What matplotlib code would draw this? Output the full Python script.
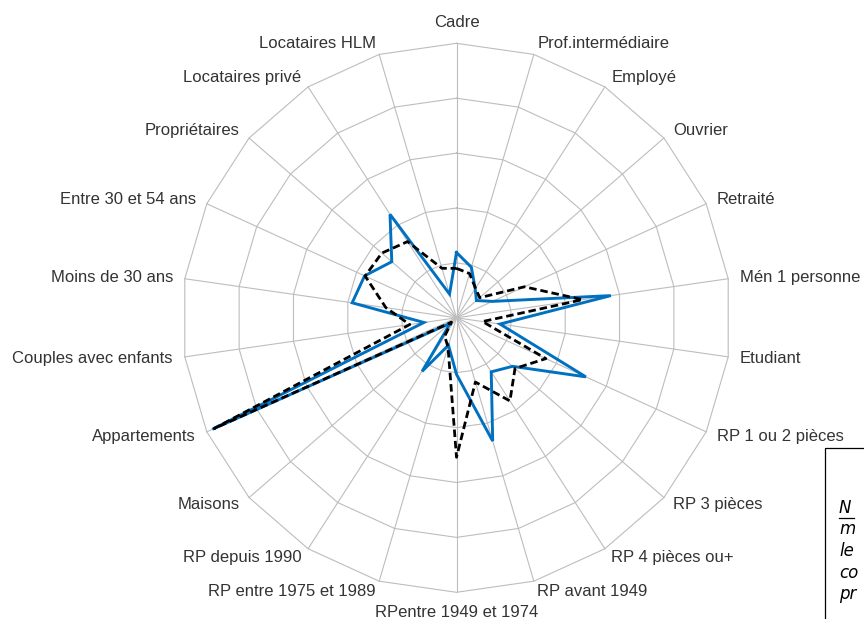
import numpy as np
import matplotlib
matplotlib.use("Agg")
import matplotlib.pyplot as plt
from matplotlib.patches import Rectangle
from matplotlib.lines import Line2D

categories = [
    "Cadre", "Prof.intermédiaire", "Employé", "Ouvrier", "Retraité",
    "Mén 1 personne", "Etudiant", "RP 1 ou 2 pièces", "RP 3 pièces",
    "RP 4 pièces ou+", "RP avant 1949", "RPentre 1949 et 1974",
    "RP entre 1975 et 1989", "RP depuis 1990", "Maisons", "Appartements",
    "Couples avec enfants", "Moins de 30 ans", "Entre 30 et 54 ans",
    "Propriétaires", "Locataires privé", "Locataires HLM",
]

serie_bleue = [1.19, 0.96, 0.63, 0.48, 0.72, 2.84, 0.80, 2.59, 1.35, 1.17, 2.34,
               1.03, 0.52, 1.16, 0.15, 4.89, 0.60, 1.92, 1.84, 1.56, 2.24, 0.45]
serie_noire = [0.90, 0.84, 0.64, 0.56, 1.36, 2.32, 0.48, 1.79, 1.41, 1.80, 1.22,
               2.54, 0.55, 0.40, 0.12, 4.85, 0.86, 1.30, 1.83, 1.80, 1.65, 0.94]

axis_max = 5
axis_step = 1

box_lines = ["N", "m", "le", "co", "pr"]

# ---------------------------------------------------------------
W, H, DPI = 864, 619, 100
fig = plt.figure(figsize=(W / DPI, H / DPI), dpi=DPI)
fig.patch.set_facecolor("white")
ax = fig.add_axes([0, 0, 1, 1])
ax.axis("off")

cx, cy = 456.5, 317.8          # centre of the radar in pixels (from top-left)
s = 274.5 / axis_max           # pixels per data unit
ax.set_xlim(-cx / s, (W - cx) / s)
ax.set_ylim(-(H - cy) / s, cy / s)

n = len(categories)
theta = np.arange(n) * 2 * np.pi / n   # clockwise from top
sx, sy = np.sin(theta), np.cos(theta)

grid_col = "#BDBDBD"
# polygon rings
for k in np.arange(axis_step, axis_max + 1e-9, axis_step):
    xs = np.append(k * sx, k * sx[0])
    ys = np.append(k * sy, k * sy[0])
    ax.plot(xs, ys, color=grid_col, lw=0.8, zorder=1)
# spokes
for i in range(n):
    ax.plot([0, axis_max * sx[i]], [0, axis_max * sy[i]], color=grid_col, lw=0.8, zorder=1)

def closed(vals):
    v = np.asarray(vals, dtype=float)
    return np.append(v * sx, v[0] * sx[0]), np.append(v * sy, v[0] * sy[0])

bx, by = closed(serie_bleue)
ax.plot(bx, by, color="#0070C0", lw=2.1, zorder=3, solid_joinstyle="miter")
kx, ky = closed(serie_noire)
ax.plot(kx, ky, color="black", lw=2.0, zorder=4, dashes=(2.7, 1.4),
        dash_capstyle="butt", solid_joinstyle="miter")

# category labels
txt_col = "#333333"
for i, lab in enumerate(categories):
    if abs(sx[i]) < 1e-6:
        r = axis_max + 20.5 / s
        ax.text(r * sx[i], r * sy[i], lab, ha="center", va="center",
                fontsize=12, family="Liberation Sans", color=txt_col)
    else:
        x = axis_max * sx[i] + (12 / s) * sx[i]
        y = axis_max * sy[i] + (11 / s) * sy[i]
        ax.text(x, y, lab, ha="left" if sx[i] > 0 else "right", va="center",
                fontsize=12, family="Liberation Sans", color=txt_col)

# partially visible note box at bottom right
fig.add_artist(Rectangle((825 / W, -0.1), 0.2, (H - 448) / H + 0.1,
                         transform=fig.transFigure, facecolor="white",
                         edgecolor="black", lw=0.9, zorder=5))
base = 513
for j, t in enumerate(box_lines):
    yb = base + j * 21.5
    fig.text(839 / W, 1 - yb / H, t, ha="left", va="baseline", fontsize=12,
             style="italic", family="DejaVu Sans", color="black", zorder=6)
fig.add_artist(Line2D([839 / W, 854 / W], [1 - 517.5 / H, 1 - 517.5 / H],
                      transform=fig.transFigure, color="black", lw=0.9, zorder=6))

fig.savefig("out.png", dpi=DPI, facecolor="white")
